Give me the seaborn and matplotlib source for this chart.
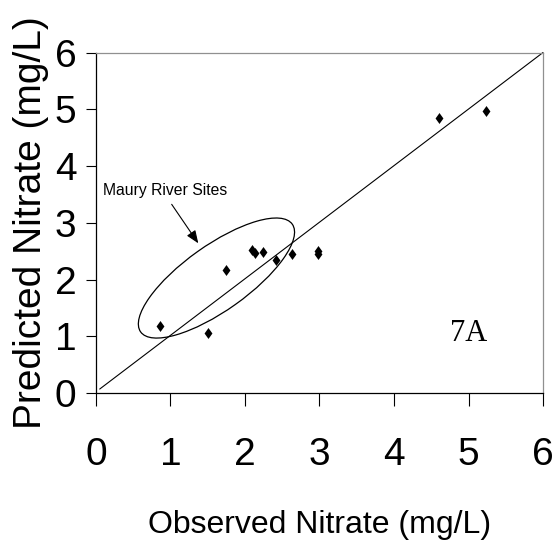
import matplotlib
matplotlib.use("Agg")
import matplotlib.pyplot as plt
import matplotlib.transforms as mtransforms
from matplotlib.patches import Ellipse
import seaborn as sns
import pandas as pd

# ---- data ----
observed = [0.86, 1.51, 1.75, 2.09, 2.13, 2.24, 2.42, 2.63, 2.98, 2.98, 4.61, 5.23]
predicted = [1.18, 1.05, 2.17, 2.52, 2.47, 2.48, 2.34, 2.45, 2.50, 2.45, 4.84, 4.97]
line_x = [0.05, 6.0]
line_y = [0.07, 6.0]
ticks = [0, 1, 2, 3, 4, 5, 6]
tick_labels = ["0", "1", "2", "3", "4", "5", "6"]
x_label = "Observed Nitrate (mg/L)"
y_label = "Predicted Nitrate (mg/L)"
annot_text = "Maury River Sites"
panel_text = "7A"

df = pd.DataFrame({"Observed": observed, "Predicted": predicted})

sns.set_style("ticks")
plt.rcParams["font.family"] = ["Liberation Sans", "DejaVu Sans"]

fig = plt.figure(figsize=(5.59, 5.47), dpi=100)
ax = fig.add_axes([0.1717, 0.2815, 0.9714 - 0.1717, 0.904 - 0.2815])

diamond = [(0, 1), (0.72, 0), (0, -1), (-0.72, 0)]
sns.scatterplot(data=df, x="Observed", y="Predicted", ax=ax, marker=diamond,
                s=62, color="black", edgecolor="black", linewidth=0, zorder=3)
ax.plot(line_x, line_y, color="black", lw=0.8, zorder=2, clip_on=False)

ax.set_xlim(0, 6)
ax.set_ylim(0, 6)
ax.set_xticks(ticks)
ax.set_yticks(ticks)
ax.set_xticklabels(tick_labels)
ax.set_yticklabels(tick_labels)
ax.tick_params(axis="x", length=9.4, width=0.8, pad=22, labelsize=28, colors="black", direction="out")
ax.tick_params(axis="y", length=7.2, width=0.8, pad=7, labelsize=28, colors="black", direction="out")

ax.set_xlabel(x_label, fontsize=23, labelpad=27, color="black")
ax.set_ylabel(y_label, fontsize=28, labelpad=4, color="black")

for side in ["left", "bottom"]:
    ax.spines[side].set_color("black")
    ax.spines[side].set_linewidth(0.9)
for side in ["top", "right"]:
    ax.spines[side].set_color("#909090")
    ax.spines[side].set_linewidth(0.9)

# ellipse around Maury River sites (size in inches, centred on a data point)
trans = fig.dpi_scale_trans + mtransforms.ScaledTranslation(1.617, 2.026, ax.transData)
ell = Ellipse((0, 0), width=1.86, height=0.65, angle=35.4, transform=trans,
              fill=False, edgecolor="black", lw=0.9, zorder=2)
ax.add_patch(ell)

ax.text(0.926, 3.565, annot_text, fontsize=11.3, ha="center", va="center",
        color="black")
ax.annotate("", xy=(1.373, 2.638), xytext=(1.016, 3.325),
            arrowprops=dict(arrowstyle="-|>,head_length=0.55,head_width=0.22",
                            mutation_scale=14, color="black", lw=0.8,
                            shrinkA=0, shrinkB=0))

ax.text(5.007, 1.04, panel_text, fontsize=22, family=["Liberation Serif", "DejaVu Serif"],
        ha="center", va="center", color="black")

fig.savefig("out.png", dpi=100)
